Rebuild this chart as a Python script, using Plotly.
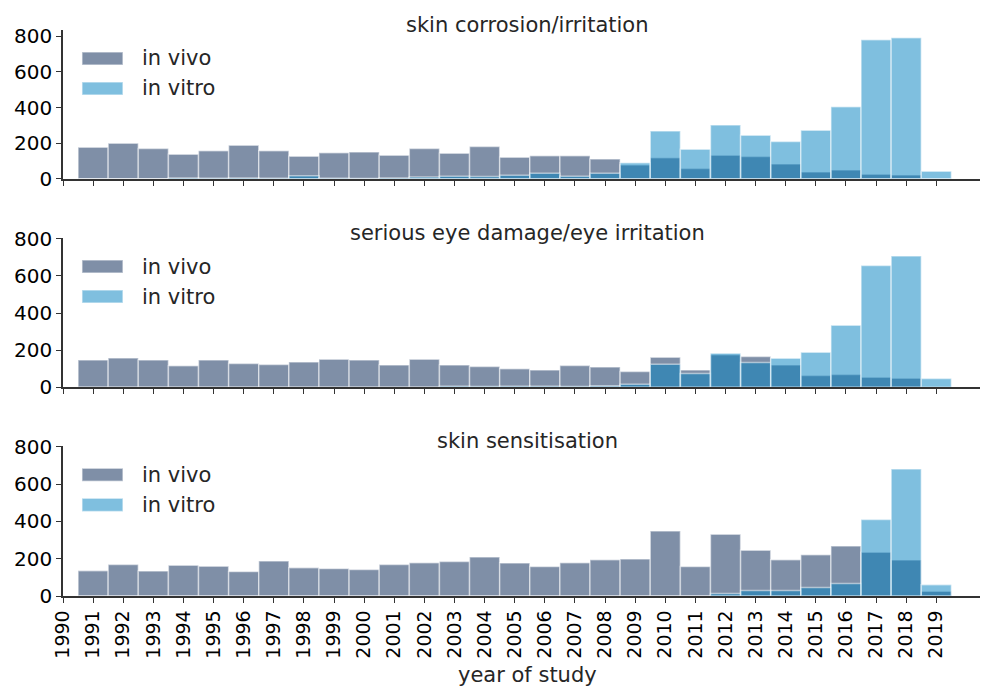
import plotly.graph_objects as go

years = list(range(1991, 2020))

# skin corrosion/irritation
corr_vivo = [177, 200, 170, 138, 157, 189, 157, 127, 147, 151, 133, 170, 144, 181,
             121, 129, 129, 112, 78, 118, 58, 133, 125, 84, 39, 49, 26, 21, 0]
corr_vitro = [0, 0, 0, 5, 3, 5, 3, 18, 3, 2, 5, 10, 15, 13,
              20, 32, 15, 32, 91, 269, 166, 302, 245, 209, 273, 405, 780, 791, 43]

# serious eye damage/eye irritation
eye_vivo = [146, 158, 146, 115, 146, 127, 122, 136, 151, 146, 119, 151, 119, 111,
            99, 93, 117, 109, 84, 162, 93, 175, 165, 120, 63, 68, 54, 48, 0]
eye_vitro = [0, 0, 0, 0, 0, 0, 0, 0, 0, 0, 0, 0, 5, 3,
             5, 5, 3, 8, 15, 124, 74, 183, 133, 156, 189, 334, 656, 708, 47]

# skin sensitisation
sens_vivo = [136, 169, 134, 165, 160, 131, 188, 152, 147, 142, 169, 179, 185, 209,
             177, 158, 179, 195, 199, 349, 158, 331, 245, 195, 222, 269, 235, 193, 25]
sens_vitro = [0, 0, 0, 0, 0, 0, 0, 0, 0, 0, 0, 0, 0, 0,
              0, 0, 0, 0, 0, 0, 0, 13, 29, 29, 45, 67, 410, 682, 61]

titles = ["skin corrosion/irritation", "serious eye damage/eye irritation", "skin sensitisation"]
panels = [(corr_vivo, corr_vitro), (eye_vivo, eye_vitro), (sens_vivo, sens_vitro)]

vivo_col = "rgba(0,32,79,0.5)"
vitro_col = "rgba(0,127,191,0.5)"
edge_col = "rgba(255,255,255,0.5)"
font = "DejaVu Sans"

domains = [[0.737, 1.0], [0.369, 0.6325], [0.0, 0.265]]
yranges = [[0, 835], [0, 805], [0, 805]]

fig = go.Figure()
layout = dict(
    width=982, height=687,
    margin=dict(l=63, r=2, t=30, b=91),
    plot_bgcolor="white", paper_bgcolor="white",
    barmode="overlay", showlegend=False,
    font=dict(family=font, size=19, color="black"),
)

annotations = []
shapes = []
for i, (vivo, vitro) in enumerate(panels):
    n = "" if i == 0 else str(i + 1)
    xa, ya = "x" + n, "y" + n
    fig.add_trace(go.Bar(x=years, y=vivo, width=1, name="in vivo", xaxis=xa, yaxis=ya,
                         marker=dict(color=vivo_col, line=dict(color=edge_col, width=1.5))))
    fig.add_trace(go.Bar(x=years, y=vitro, width=1, name="in vitro", xaxis=xa, yaxis=ya,
                         marker=dict(color=vitro_col, line=dict(color=edge_col, width=1.5))))
    layout["xaxis" + n] = dict(
        domain=[0, 1], anchor=ya, range=[1990, 2020.45], automargin=False,
        tickmode="array", tickvals=list(range(1990, 2020)),
        ticktext=[str(y) for y in range(1990, 2020)] if i == 2 else [""] * 30,
        showticklabels=(i == 2), tickangle=-90,
        ticks="outside", ticklen=5, tickwidth=1.2, tickcolor="#333",
        showline=True, linecolor="#333", linewidth=1.5, showgrid=False, zeroline=False,
        tickfont=dict(size=19, color="black"),
    )
    layout["yaxis" + n] = dict(
        domain=domains[i], anchor=xa, range=yranges[i], automargin=False,
        tickvals=[0, 200, 400, 600, 800],
        ticks="outside", ticklen=5, tickwidth=1.2, tickcolor="#333",
        showline=True, linecolor="#333", linewidth=1.5, showgrid=False, zeroline=False,
        tickfont=dict(size=20, color="black"),
    )
    annotations.append(dict(text=titles[i], xref="paper", yref=ya + " domain",
                            x=0.507, y=1, xanchor="center", yanchor="bottom", yshift=-9,
                            showarrow=False, font=dict(size=21, color="#262626")))
    # legend
    for j, (lab, col) in enumerate([("in vivo", vivo_col), ("in vitro", vitro_col)]):
        top = 1 - (22 + 30 * j) / 149
        bot = 1 - (35 + 30 * j) / 149
        shapes.append(dict(type="rect", xref=xa + " domain", yref=ya + " domain",
                           x0=0.0207, x1=0.0654, y0=bot, y1=top,
                           fillcolor=col, line=dict(color=edge_col, width=1.5)))
        annotations.append(dict(text=lab, xref=xa + " domain", yref=ya + " domain",
                                x=0.084, y=(top + bot) / 2, xanchor="left", yanchor="middle",
                                showarrow=False, font=dict(size=21, color="#262626")))

annotations.append(dict(text="year of study", xref="paper", yref="paper",
                        x=0.507, y=-0.14, xanchor="center", yanchor="middle",
                        showarrow=False, font=dict(size=21, color="#262626")))
layout["annotations"] = annotations
layout["shapes"] = shapes
fig.update_layout(**layout)

# drop the page's default body margin so the figure sits at the top-left corner
fig.write_html("out.html", config={"displayModeBar": False},
               post_script="document.body.style.margin='0';")
